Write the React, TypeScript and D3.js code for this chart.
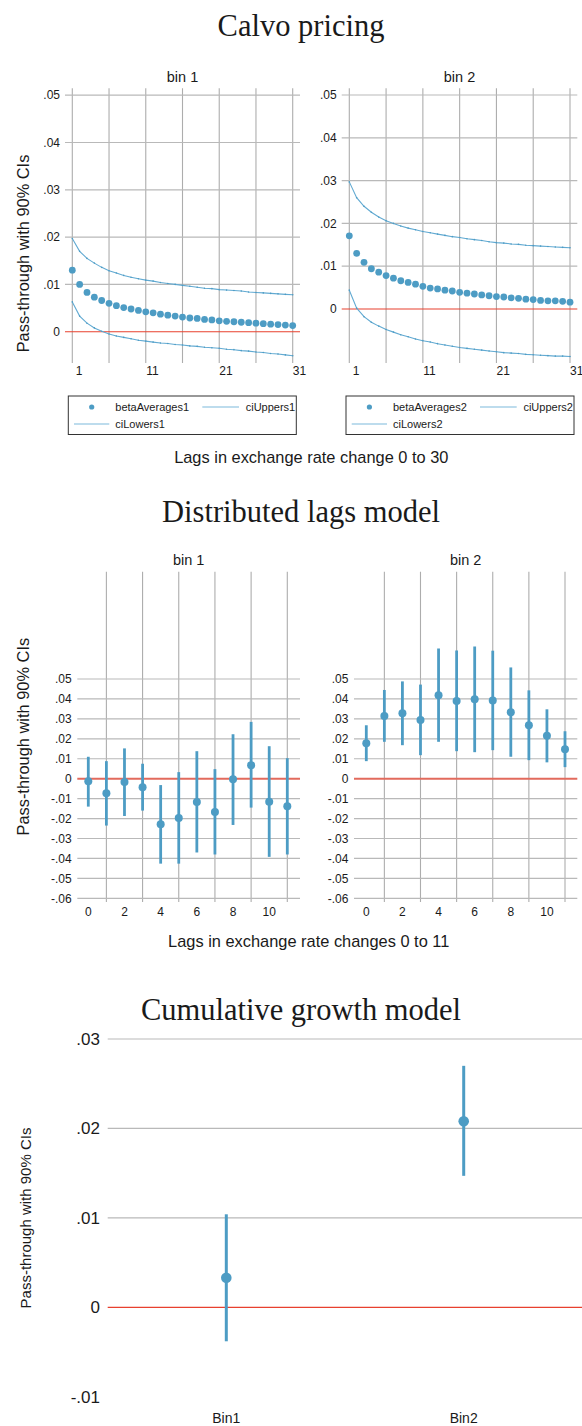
import React from 'react';
import * as d3 from 'd3';

// ---------- Calvo pricing (lags 1..31) ----------
const calvoLags = [1, 2, 3, 4, 5, 6, 7, 8, 9, 10, 11, 12, 13, 14, 15, 16, 17, 18, 19, 20, 21, 22, 23, 24, 25, 26, 27, 28, 29, 30, 31];
const betaAverages1 = [0.0130, 0.0100, 0.0083, 0.0073, 0.0066, 0.0060, 0.0055, 0.0051, 0.0048, 0.0045, 0.0042, 0.0040, 0.0037, 0.0035, 0.0033, 0.0031, 0.0029, 0.0028, 0.0026, 0.0025, 0.0023, 0.0022, 0.0021, 0.0020, 0.0019, 0.0018, 0.0017, 0.0016, 0.0015, 0.0014, 0.0013];
const ciUppers1 = [0.0197, 0.0170, 0.0155, 0.0145, 0.0136, 0.0129, 0.0124, 0.0119, 0.0115, 0.0112, 0.0109, 0.0107, 0.0104, 0.0102, 0.0100, 0.0098, 0.0096, 0.0094, 0.0092, 0.0091, 0.0089, 0.0088, 0.0087, 0.0086, 0.0084, 0.0083, 0.0082, 0.0081, 0.0080, 0.0079, 0.0078];
const ciLowers1 = [0.0063, 0.0033, 0.0018, 0.0008, 0.0001, -0.0005, -0.0009, -0.0012, -0.0015, -0.0018, -0.0020, -0.0022, -0.0024, -0.0025, -0.0027, -0.0028, -0.0030, -0.0031, -0.0033, -0.0034, -0.0035, -0.0037, -0.0038, -0.0040, -0.0041, -0.0043, -0.0044, -0.0046, -0.0047, -0.0049, -0.0051];
const betaAverages2 = [0.0171, 0.0130, 0.0109, 0.0094, 0.0086, 0.0078, 0.0072, 0.0066, 0.0062, 0.0058, 0.0053, 0.0049, 0.0047, 0.0044, 0.0042, 0.0039, 0.0037, 0.0035, 0.0033, 0.0031, 0.0029, 0.0028, 0.0026, 0.0025, 0.0023, 0.0022, 0.0020, 0.0019, 0.0019, 0.0018, 0.0016];
const ciUppers2 = [0.0297, 0.0260, 0.0240, 0.0226, 0.0215, 0.0206, 0.0200, 0.0194, 0.0189, 0.0185, 0.0181, 0.0178, 0.0175, 0.0172, 0.0169, 0.0167, 0.0164, 0.0162, 0.0160, 0.0157, 0.0155, 0.0154, 0.0152, 0.0151, 0.0149, 0.0148, 0.0147, 0.0146, 0.0145, 0.0144, 0.0143];
const ciLowers2 = [0.0044, 0.0002, -0.0018, -0.0031, -0.0040, -0.0048, -0.0054, -0.0060, -0.0065, -0.0070, -0.0074, -0.0077, -0.0081, -0.0084, -0.0087, -0.0090, -0.0092, -0.0094, -0.0096, -0.0098, -0.0100, -0.0102, -0.0103, -0.0104, -0.0106, -0.0107, -0.0108, -0.0109, -0.0110, -0.0110, -0.0111];
const calvoXTicks = [1, 11, 21, 31];
const calvoXGrid = [1, 6, 11, 16, 21, 26, 31];
const calvoYTicks = [0, 0.01, 0.02, 0.03, 0.04, 0.05];
const calvoYLabels = ['0', '.01', '.02', '.03', '.04', '.05'];

// ---------- Distributed lags (lags 0..11) ----------
const dlLags = [0, 1, 2, 3, 4, 5, 6, 7, 8, 9, 10, 11];
const dlBeta1 = [-0.0013, -0.0073, -0.0017, -0.0043, -0.0228, -0.0197, -0.0117, -0.0167, -0.0003, 0.0068, -0.0115, -0.0138];
const dlUpper1 = [0.0110, 0.0088, 0.0152, 0.0075, -0.0032, 0.0033, 0.0138, 0.0048, 0.0223, 0.0285, 0.0163, 0.0103];
const dlLower1 = [-0.0140, -0.0235, -0.0187, -0.0160, -0.0426, -0.0426, -0.0370, -0.0380, -0.0232, -0.0145, -0.0392, -0.0380];
const dlBeta2 = [0.0178, 0.0315, 0.0328, 0.0295, 0.0418, 0.0390, 0.0398, 0.0392, 0.0333, 0.0268, 0.0215, 0.0148];
const dlUpper2 = [0.0268, 0.0445, 0.0488, 0.0472, 0.0653, 0.0643, 0.0663, 0.0642, 0.0558, 0.0443, 0.0348, 0.0238];
const dlLower2 = [0.0088, 0.0185, 0.0168, 0.0118, 0.0185, 0.0138, 0.0133, 0.0143, 0.0110, 0.0093, 0.0082, 0.0058];
const dlXTicks = [0, 2, 4, 6, 8, 10];
const dlXGrid = [1, 3, 5, 7, 9, 11];
const dlYTicks = [-0.06, -0.05, -0.04, -0.03, -0.02, -0.01, 0, 0.01, 0.02, 0.03, 0.04, 0.05];
const dlYLabels = ['-.06', '-.05', '-.04', '-.03', '-.02', '-.01', '0', '.01', '.02', '.03', '.04', '.05'];

// ---------- Cumulative growth ----------
const cumCategories = ['Bin1', 'Bin2'];
const cumBeta = [0.0033, 0.0208];
const cumUpper = [0.0104, 0.0270];
const cumLower = [-0.0038, 0.0147];
const cumYTicks = [-0.01, 0, 0.01, 0.02, 0.03];
const cumYLabels = ['-.01', '0', '.01', '.02', '.03'];

const SANS = '"Liberation Sans", Arial, Helvetica, sans-serif';
const SERIF = '"Liberation Serif", "Times New Roman", serif';
const BLUE = '#4d9cc4';
const LINEBLUE = '#62aad2';
const GRID = '#b9b9b9';
const VGRID = '#adadad';
const TXT = '#1a1a1a';

type CalvoProps = {
  title: string;
  xr: [number, number];
  yZero: number;
  y05: number;
  gl: number;
  gr: number;
  gt: number;
  gb: number;
  beta: number[];
  up: number[];
  lo: number[];
  legX: number;
  names: [string, string, string];
};

function CalvoPanel(p: CalvoProps) {
  const x = d3.scaleLinear().domain([1, 31]).range(p.xr);
  const y = d3.scaleLinear().domain([0, 0.05]).range([p.yZero, p.y05]);
  const line = d3.line<number>().x((_, i) => x(calvoLags[i])).y((d) => y(d));
  const cx = (p.gl + p.gr) / 2;
  const ly = 396;
  return (
    <g>
      <text x={cx} y={81.7} textAnchor="middle" fontSize={14.5} fontFamily={SANS} fill={TXT}>{p.title}</text>
      {calvoXGrid.map((g) => (
        <line key={'v' + g} x1={x(g)} x2={x(g)} y1={p.gt} y2={p.gb} stroke={VGRID} strokeWidth={1.1} />
      ))}
      {calvoYTicks.map((t, i) => (
        <g key={'h' + t}>
          {t !== 0 && <line x1={p.gl} x2={p.gr} y1={y(t)} y2={y(t)} stroke={GRID} strokeWidth={1.2} />}
          <text x={p.gl - 5} y={y(t)} dy="0.35em" textAnchor="end" fontSize={12} fontFamily={SANS} fill={TXT}>{calvoYLabels[i]}</text>
        </g>
      ))}
      <line x1={p.gl} x2={p.gr} y1={y(0)} y2={y(0)} stroke="#e8402e" strokeWidth={1.1} />
      {calvoXTicks.map((t) => (
        <text key={'xt' + t} x={x(t) + 6.7} y={375} textAnchor="middle" fontSize={12} fontFamily={SANS} fill={TXT}>{t}</text>
      ))}
      <path d={line(p.up) || ''} fill="none" stroke={LINEBLUE} strokeWidth={1.1} />
      <path d={line(p.lo) || ''} fill="none" stroke={LINEBLUE} strokeWidth={1.1} />
      {p.up.map((v, i) => (
        <circle key={'u' + i} cx={x(calvoLags[i])} cy={y(v)} r={0.8} fill={BLUE} />
      ))}
      {p.lo.map((v, i) => (
        <circle key={'l' + i} cx={x(calvoLags[i])} cy={y(v)} r={0.8} fill={BLUE} />
      ))}
      {p.beta.map((v, i) => (
        <circle key={'b' + i} cx={x(calvoLags[i])} cy={y(v)} r={3.4} fill={BLUE} />
      ))}
      {/* legend */}
      <rect x={p.legX} y={ly} width={228} height={38.5} fill="white" stroke="#333" strokeWidth={1} />
      <circle cx={p.legX + 23.4} cy={ly + 11} r={2.6} fill={BLUE} />
      <text x={p.legX + 47} y={ly + 14.7} fontSize={11} fontFamily={SANS} fill={TXT}>{p.names[0]}</text>
      <line x1={p.legX + 134} x2={p.legX + 170.7} y1={ly + 11} y2={ly + 11} stroke="#7dbadb" strokeWidth={1.2} />
      <text x={p.legX + 177.4} y={ly + 14.7} fontSize={11} fontFamily={SANS} fill={TXT}>{p.names[1]}</text>
      <line x1={p.legX + 5.7} x2={p.legX + 41} y1={ly + 28} y2={ly + 28} stroke="#7dbadb" strokeWidth={1.2} />
      <text x={p.legX + 47} y={ly + 31.7} fontSize={11} fontFamily={SANS} fill={TXT}>{p.names[2]}</text>
    </g>
  );
}

type DLProps = {
  title: string;
  xr: [number, number];
  gl: number;
  gr: number;
  beta: number[];
  up: number[];
  lo: number[];
};

function DLPanel(p: DLProps) {
  const x = d3.scaleLinear().domain([0, 11]).range(p.xr);
  const y = d3.scaleLinear().domain([0, 0.05]).range([778.7, 679]);
  const cx = (p.gl + p.gr) / 2;
  return (
    <g>
      <text x={cx} y={565} textAnchor="middle" fontSize={14.5} fontFamily={SANS} fill={TXT}>{p.title}</text>
      {dlXGrid.map((g) => (
        <line key={'v' + g} x1={x(g)} x2={x(g)} y1={571.7} y2={902} stroke={VGRID} strokeWidth={1.1} />
      ))}
      {dlYTicks.map((t, i) => (
        <g key={'h' + i}>
          {t !== 0 && <line x1={p.gl} x2={p.gr} y1={y(t)} y2={y(t)} stroke={GRID} strokeWidth={1.2} />}
          <text x={p.gl - 5.6} y={y(t)} dy="0.35em" textAnchor="end" fontSize={12} fontFamily={SANS} fill={TXT}>{dlYLabels[i]}</text>
        </g>
      ))}
      <line x1={p.gl} x2={p.gr} y1={y(0)} y2={y(0)} stroke="#e26a5c" strokeWidth={2} />
      {dlXTicks.map((t) => (
        <text key={'xt' + t} x={x(t)} y={916} textAnchor="middle" fontSize={12} fontFamily={SANS} fill={TXT}>{t}</text>
      ))}
      {p.beta.map((v, i) => (
        <g key={'e' + i}>
          <line x1={x(dlLags[i])} x2={x(dlLags[i])} y1={y(p.lo[i])} y2={y(p.up[i])} stroke={BLUE} strokeWidth={2.8} />
          <circle cx={x(dlLags[i])} cy={y(v)} r={4} fill={BLUE} />
        </g>
      ))}
    </g>
  );
}

function CumPanel() {
  const x = d3.scaleLinear().domain([1, 2]).range([226.3, 463.7]);
  const y = d3.scaleLinear().domain([0, 0.03]).range([1307.3, 1039]);
  const gl = 107.7;
  const gr = 582;
  return (
    <g>
      {cumYTicks.map((t, i) => (
        <g key={'h' + i}>
          {t > 0 && <line x1={gl} x2={gr} y1={y(t)} y2={y(t)} stroke={GRID} strokeWidth={1.2} />}
          <text x={100} y={y(t)} dy="0.35em" textAnchor="end" fontSize={17} fontFamily={SANS} fill={TXT}>{cumYLabels[i]}</text>
        </g>
      ))}
      <line x1={gl} x2={gr} y1={y(0)} y2={y(0)} stroke="#e8402e" strokeWidth={1.3} />
      {cumCategories.map((c, i) => (
        <g key={c}>
          <line x1={x(i + 1)} x2={x(i + 1)} y1={y(cumLower[i])} y2={y(cumUpper[i])} stroke={BLUE} strokeWidth={3} />
          <circle cx={x(i + 1)} cy={y(cumBeta[i])} r={5.3} fill={BLUE} />
          <text x={x(i + 1)} y={1423} textAnchor="middle" fontSize={14} fontFamily={SANS} fill={TXT}>{c}</text>
        </g>
      ))}
    </g>
  );
}

export default function App() {
  const ytitle = 'Pass-through with 90% CIs';
  return (
    <svg width={582} height={1426} style={{ position: 'absolute', left: 0, top: 0, background: 'white' }}>
      <rect x={0} y={0} width={582} height={1426} fill="white" />
      {/* Calvo pricing */}
      <text x={301} y={36} textAnchor="middle" fontSize={30.5} fontFamily={SERIF} fill={TXT}>Calvo pricing</text>
      <text transform="translate(29,253.5) rotate(-90)" textAnchor="middle" fontSize={16.4} fontFamily={SANS} fill={TXT}>{ytitle}</text>
      <CalvoPanel title="bin 1" xr={[72.3, 292.7]} yZero={331.7} y05={95.2} gl={65} gr={300} gt={88.3} gb={363} beta={betaAverages1} up={ciUppers1} lo={ciLowers1} legX={68.3} names={['betaAverages1', 'ciUppers1', 'ciLowers1']} />
      <CalvoPanel title="bin 2" xr={[349.3, 570]} yZero={309} y05={95} gl={341.7} gr={577.3} gt={88.3} gb={363} beta={betaAverages2} up={ciUppers2} lo={ciLowers2} legX={346} names={['betaAverages2', 'ciUppers2', 'ciLowers2']} />
      <text x={311.3} y={462.7} textAnchor="middle" fontSize={16.4} fontFamily={SANS} fill={TXT}>Lags in exchange rate change 0 to 30</text>

      {/* Distributed lags */}
      <text x={301} y={522} textAnchor="middle" fontSize={30.5} fontFamily={SERIF} fill={TXT}>Distributed lags model</text>
      <text transform="translate(29,736.7) rotate(-90)" textAnchor="middle" fontSize={16.4} fontFamily={SANS} fill={TXT}>{ytitle}</text>
      <DLPanel title="bin 1" xr={[88.3, 287.3]} gl={77.3} gr={300} beta={dlBeta1} up={dlUpper1} lo={dlLower1} />
      <DLPanel title="bin 2" xr={[366.3, 565]} gl={354} gr={577.3} beta={dlBeta2} up={dlUpper2} lo={dlLower2} />
      <text x={308.7} y={946.7} textAnchor="middle" fontSize={16.4} fontFamily={SANS} fill={TXT}>Lags in exchange rate changes 0 to 11</text>

      {/* Cumulative growth */}
      <text x={301} y={1020} textAnchor="middle" fontSize={30.5} fontFamily={SERIF} fill={TXT}>Cumulative growth model</text>
      <text transform="translate(31,1218) rotate(-90)" textAnchor="middle" fontSize={15} fontFamily={SANS} fill={TXT}>{ytitle}</text>
      <CumPanel />
    </svg>
  );
}
